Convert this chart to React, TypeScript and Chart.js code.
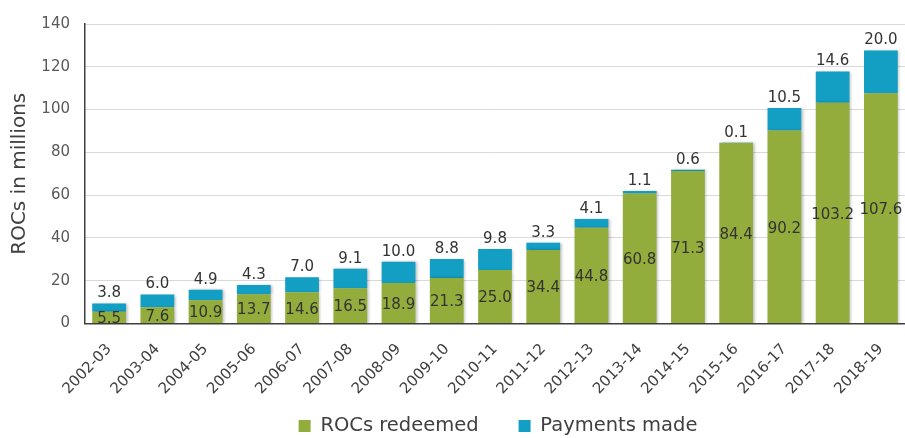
import React, { useEffect, useRef } from "react";
import { Chart, registerables } from "chart.js";

Chart.register(...registerables);

const categories = [
  "2002-03", "2003-04", "2004-05", "2005-06", "2006-07", "2007-08", "2008-09",
  "2009-10", "2010-11", "2011-12", "2012-13", "2013-14", "2014-15", "2015-16",
  "2016-17", "2017-18", "2018-19",
];
const rocsRedeemed = [5.5, 7.6, 10.9, 13.7, 14.6, 16.5, 18.9, 21.3, 25.0, 34.4, 44.8, 60.8, 71.3, 84.4, 90.2, 103.2, 107.6];
const paymentsMade = [3.8, 6.0, 4.9, 4.3, 7.0, 9.1, 10.0, 8.8, 9.8, 3.3, 4.1, 1.1, 0.6, 0.1, 10.5, 14.6, 20.0];
const yTicks = [0, 20, 40, 60, 80, 100, 120, 140];

const GREEN = "#93ad3c";
const BLUE = "#139ec4";
const FONT = "'DejaVu Sans', sans-serif";
const LEGEND_PAD = 40;
const LEGEND_FONT = 19.5;

const labelPlugin = {
  id: "valueLabels",
  beforeDatasetsDraw(chart: any) {
    const ctx = chart.ctx;
    ctx.save();
    ctx.shadowColor = "rgba(0,0,0,0.28)";
    ctx.shadowOffsetX = 1.5;
    ctx.shadowOffsetY = 0.5;
    ctx.shadowBlur = 3;
  },
  afterDatasetsDraw(chart: any) {
    const ctx = chart.ctx;
    ctx.restore();
    ctx.save();
    ctx.font = `15px ${FONT}`;
    ctx.fillStyle = "#333333";
    ctx.textAlign = "center";
    ctx.textBaseline = "middle";
    const m0 = chart.getDatasetMeta(0);
    m0.data.forEach((el: any, i: number) => {
      const cy = (el.y + el.base) / 2;
      ctx.fillText(rocsRedeemed[i].toFixed(1), el.x, cy + 2);
    });
    const m1 = chart.getDatasetMeta(1);
    m1.data.forEach((el: any, i: number) => {
      ctx.fillText(paymentsMade[i].toFixed(1), el.x, el.y - 10);
    });
    ctx.restore();
  },
  afterLayout(chart: any) {
    const lg = chart.legend;
    const xs = chart.scales.x;
    if (xs) {
      xs.bottom = chart.height;
      xs.height = xs.bottom - xs.top;
    }
    if (!lg) return;
    const area = chart.chartArea;
    lg.left = area.left + 3;
    lg.right = area.right + 3;
    const center = lg.top + LEGEND_PAD + LEGEND_FONT / 2;
    const d = 426 - center;
    lg.top += d;
    lg.bottom += d;
  },
};

export default function App() {
  const ref = useRef<HTMLCanvasElement | null>(null);
  useEffect(() => {
    document.body.style.margin = "0";
    const chart = new Chart(ref.current as HTMLCanvasElement, {
      type: "bar",
      data: {
        labels: categories,
        datasets: [
          { label: "ROCs redeemed", data: rocsRedeemed, backgroundColor: GREEN, borderWidth: 0 },
          { label: "Payments made", data: paymentsMade, backgroundColor: BLUE, borderWidth: 0 },
        ],
      },
      plugins: [labelPlugin],
      options: {
        animation: false,
        responsive: false,
        layout: { padding: { top: 23, right: 0, left: 0, bottom: 0 } },
        datasets: { bar: { categoryPercentage: 1, barPercentage: 0.7 } },
        scales: {
          x: {
            stacked: true,
            grid: { display: false },
            border: { display: true, color: "#404040", width: 1.5 },
            ticks: {
              minRotation: 46,
              maxRotation: 46,
              color: "#404040",
              font: { family: FONT, size: 15 },
              padding: 9,
            },
            afterFit: (s: any) => { s.height = 438 - (LEGEND_FONT + LEGEND_PAD + 10) - 323.5; },
          },
          y: {
            stacked: true,
            min: 0,
            max: 140,
            afterBuildTicks: (s: any) => { s.ticks = yTicks.map((v) => ({ value: v })); },
            grid: { color: "#d9d9d9", drawTicks: false },
            border: { display: true, color: "#404040", width: 1.5 },
            ticks: {
              color: "#595959",
              font: { family: FONT, size: 15 },
              padding: 15,
            },
            title: {
              display: true,
              text: "ROCs in millions",
              color: "#404040",
              font: { family: FONT, size: 20 },
              padding: { top: 8, bottom: 4 },
            },
            afterFit: (s: any) => { s.width = 85; },
          },
        },
        plugins: {
          legend: {
            position: "bottom",
            labels: {
              boxWidth: 12,
              boxHeight: 12,
              padding: LEGEND_PAD,
              color: "#404040",
              font: { family: FONT, size: LEGEND_FONT },
            },
          },
          tooltip: { enabled: false },
        },
      },
    } as any);
    return () => chart.destroy();
  }, []);
  return (
    <div style={{ width: 905, height: 438 }}>
      <canvas ref={ref} width={905} height={438} style={{ display: "block" }} />
    </div>
  );
}
